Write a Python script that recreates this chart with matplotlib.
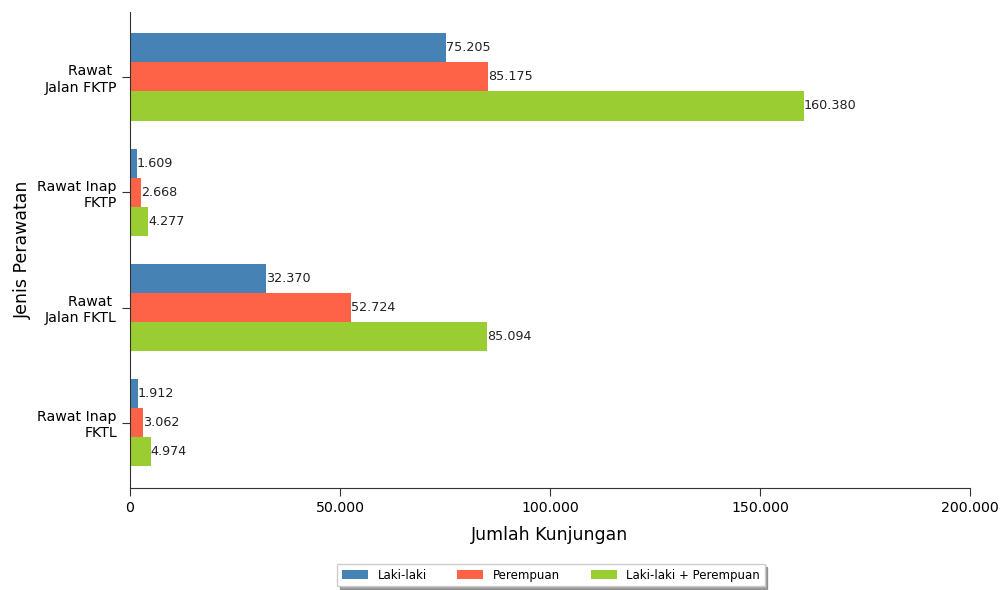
import matplotlib
matplotlib.use("Agg")
import matplotlib.pyplot as plt
import numpy as np

categories = ["Rawat \nJalan FKTP", "Rawat Inap\nFKTP", "Rawat \nJalan FKTL", "Rawat Inap\nFKTL"]
laki = [75205, 1609, 32370, 1912]
perempuan = [85175, 2668, 52724, 3062]
total = [160380, 4277, 85094, 4974]
series_names = ["Laki-laki", "Perempuan", "Laki-laki + Perempuan"]
colors = ["#4682B4", "#FF6347", "#9ACD32"]

def fmt(v):
    return f"{v:,.0f}".replace(",", ".")

fig = plt.figure(figsize=(10, 5.9), dpi=100)
ax = fig.add_axes([0.13, 0.173, 0.84, 0.807])

y = np.arange(len(categories))
h = 0.252
for i, (vals, name, c) in enumerate(zip([laki, perempuan, total], series_names, colors)):
    pos = y + (i - 1) * h
    ax.barh(pos, vals, height=h, color=c, label=name)
    for p, v in zip(pos, vals):
        ax.text(v, p, fmt(v), va="center", ha="left", fontsize=9.2, color="#222222")

ax.set_ylim(3.565, -0.565)
ax.set_xlim(0, 200000)
ax.set_yticks(y)
ax.set_yticklabels(categories, fontsize=10.2, ha="right")
ax.set_xticks([0, 50000, 100000, 150000, 200000])
ax.set_xticklabels([fmt(v) for v in [0, 50000, 100000, 150000, 200000]], fontsize=10.2)
ax.spines["top"].set_visible(False)
ax.spines["right"].set_visible(False)
ax.spines["left"].set_color("#333333")
ax.spines["bottom"].set_color("#333333")
ax.tick_params(axis="both", length=6, color="#333333")
ax.set_xlabel("Jumlah Kunjungan", fontsize=12.5, labelpad=8)
ax.set_ylabel("Jenis Perawatan", fontsize=12.5, labelpad=4)

leg = fig.legend(loc="lower center", bbox_to_anchor=(0.551, -0.004), ncol=3, fontsize=8.5,
                 frameon=True, fancybox=False, shadow=True, handlelength=2.2, handleheight=0.7,
                 columnspacing=2.6, borderpad=0.4, edgecolor="#cccccc")
fig.savefig("out.png", dpi=100)
